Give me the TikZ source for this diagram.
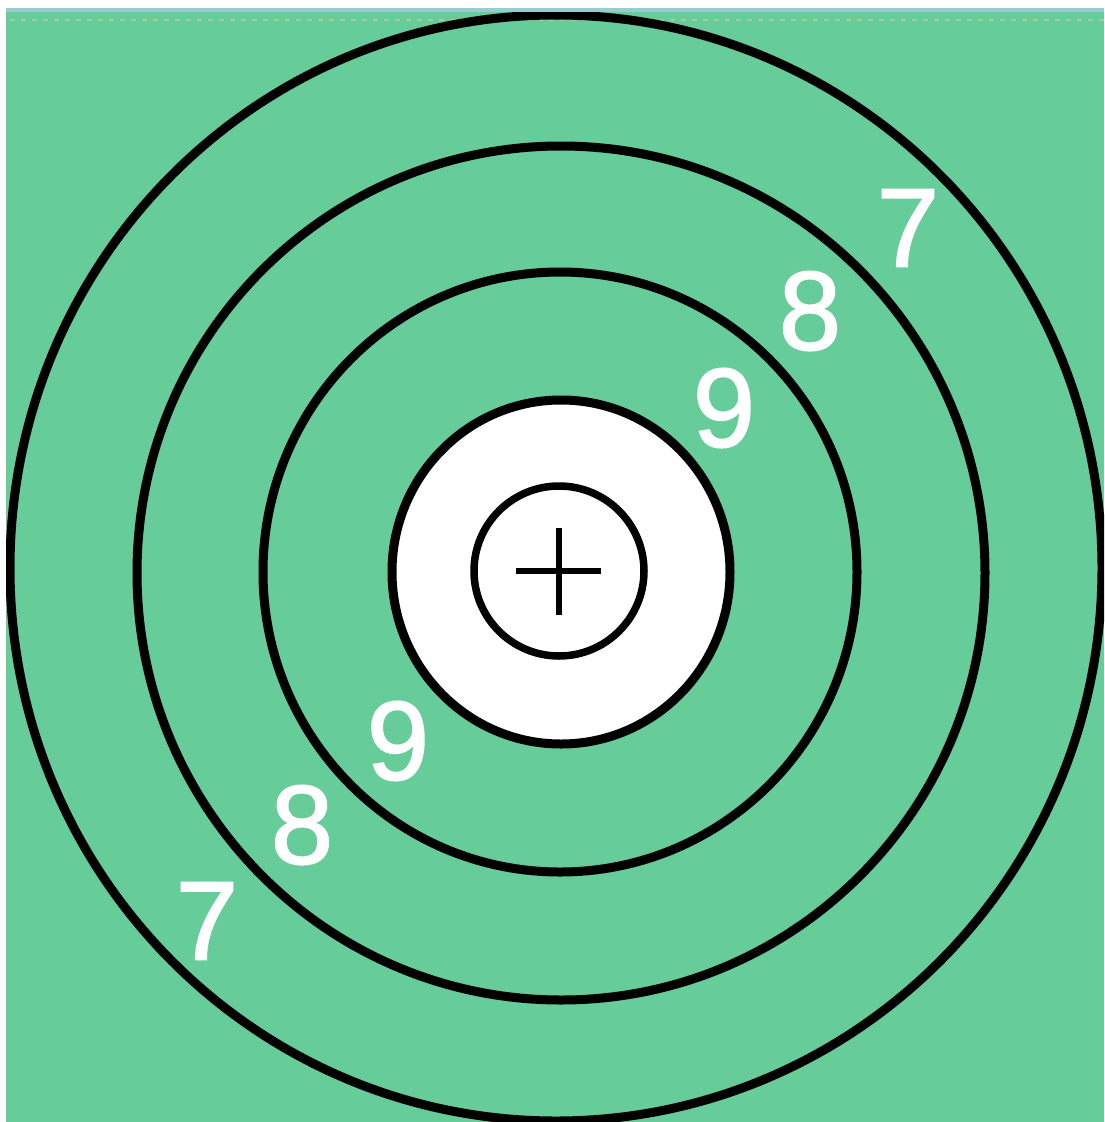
\documentclass[tikz,border=0pt]{standalone}
\usepackage{fontspec}
\setmainfont{Liberation Sans}
\newfontfamily\numfont[FakeBold=1.6]{Liberation Sans}
\definecolor{bggreen}{RGB}{102,204,153}
\definecolor{edgeblue}{RGB}{153,204,204}
\definecolor{paledot}{RGB}{165,204,153}
\begin{document}
\begin{tikzpicture}[x=1pt,y=-1pt,
  ring/.style={draw=black,line width=9pt},
  num/.style={text=white,font=\numfont\fontsize{112}{112}\selectfont,inner sep=0pt,anchor=center}]
\useasboundingbox (0,0) rectangle (1104,1122);
\fill[white] (0,0) rectangle (1104,1122);
\fill[edgeblue] (6,8) rectangle (1104,12);
\fill[bggreen] (6,12) rectangle (1104,1122);
\draw[paledot,line width=2.5pt,dash pattern=on 5pt off 6pt] (10,20) -- (1104,20);
\begin{scope}
\clip (6,12) rectangle (1104,1122);
\draw[ring] (556,568) ellipse [x radius=546, y radius=553];
\end{scope}
\draw[ring] (561,573) ellipse [x radius=424, y radius=427];
\draw[ring] (560,572) ellipse [x radius=297, y radius=300];
\draw[ring,fill=white] (561,572) ellipse [x radius=169, y radius=172];
\coordinate (c) at (559,571);
\draw[black,line width=7.5pt] (c) circle [radius=85];
\coordinate (hl) at (516,571);
\coordinate (hr) at (601,571);
\coordinate (vt) at (559,528);
\coordinate (vb) at (559,615);
\draw[black,line width=6pt] (hl) -- (hr);
\draw[black,line width=6pt] (vt) -- (vb);
\node[num] (u7) at (908,228) {7};
\node[num] (u8) at (810,311) {8};
\node[num] (u9) at (724,408) {9};
\node[num] (l9) at (398,741) {9};
\node[num] (l8) at (302,825) {8};
\node[num] (l7) at (207,921) {7};
\end{tikzpicture}
\end{document}
